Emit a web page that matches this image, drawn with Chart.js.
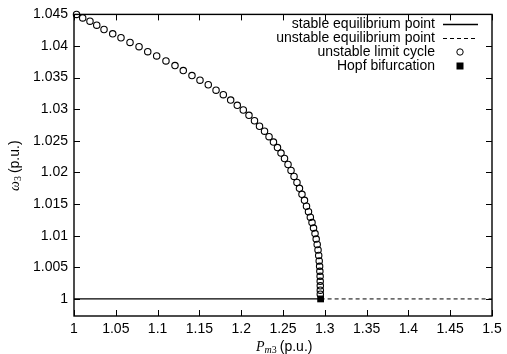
<!DOCTYPE html>
<html>
<head>
<meta charset="utf-8">
<script src="https://cdn.jsdelivr.net/npm/chart.js@4/dist/chart.umd.min.js"></script>
<style>
  html, body { margin: 0; padding: 0; background: #fff; }
  #wrap { width: 507px; height: 354px; }
</style>
</head>
<body>
<div id="wrap"><canvas id="chart" width="507" height="354"></canvas></div>
<script>
/* Hopf bifurcation diagram: omega_3 vs P_m3 */

// unstable limit cycle
const cycleP = [1.003, 1.0104, 1.0191, 1.0272, 1.0359, 1.0463, 1.0562, 1.0670, 1.0778, 1.0882,
    1.0989, 1.1100, 1.1208, 1.1307, 1.1411, 1.1507, 1.1606, 1.1699, 1.1786, 1.1874,
    1.1953, 1.2025, 1.2093, 1.2159, 1.2219, 1.2279, 1.2333, 1.2386, 1.2434, 1.2476,
    1.2518, 1.2560, 1.2596, 1.2632, 1.2667, 1.2697, 1.2727, 1.2757, 1.2781, 1.2805,
    1.2827, 1.2847, 1.2865, 1.2883, 1.2897, 1.2909, 1.2919, 1.2927, 1.2933, 1.2938,
    1.2941, 1.2944, 1.2945, 1.2946, 1.2946, 1.2946];
const cycleW = [1.0450, 1.04445, 1.04393, 1.04330, 1.04261, 1.04193, 1.04131, 1.04057, 1.03989, 1.03911,
    1.03843, 1.03764, 1.03690, 1.03612, 1.03533, 1.03459, 1.03387, 1.03302, 1.03230, 1.03145,
    1.03062, 1.02988, 1.02904, 1.02818, 1.02731, 1.02653, 1.02566, 1.02480, 1.02394, 1.02307,
    1.02221, 1.02126, 1.02032, 1.01938, 1.01843, 1.01749, 1.01655, 1.01560, 1.01466, 1.01380,
    1.01293, 1.01207, 1.01120, 1.01034, 1.00947, 1.00861, 1.00774, 1.00688, 1.00601, 1.00515,
    1.00436, 1.00358, 1.00279, 1.00208, 1.00138, 1.00075];

// equilibrium branch
const hopfP = 1.295;
const eqW = 1.0;
const stableP = [1.0, hopfP];
const unstableP = [hopfP, 1.5];

// axes
const xTicks = [1, 1.05, 1.1, 1.15, 1.2, 1.25, 1.3, 1.35, 1.4, 1.45, 1.5];
const yTicks = [1, 1.005, 1.01, 1.015, 1.02, 1.025, 1.03, 1.035, 1.04, 1.045];
const xRange = [1, 1.5];
const yRange = [0.9973, 1.045];

const legendLabels = ["stable equilibrium point", "unstable equilibrium point", "unstable limit cycle", "Hopf bifurcation"];

const FONT = "Liberation Sans, Arial, Helvetica, sans-serif";
const SERIF = "Liberation Serif, Times New Roman, serif";

function fmt(v) { return String(Number(v.toFixed(4))); }

// frame, inward ticks, legend and axis titles
const gnuplotLook = {
    id: "gnuplotLook",
    beforeDatasetsDraw(chart) {
        const ctx = chart.ctx, a = chart.chartArea;
        const xs = chart.scales.x, ys = chart.scales.y;
        ctx.save();
        ctx.strokeStyle = "#000";
        ctx.lineWidth = 1;
        ctx.beginPath();
        xTicks.forEach(v => {
            const px = Math.round(xs.getPixelForValue(v)) + 0.5;
            ctx.moveTo(px, a.bottom); ctx.lineTo(px, a.bottom - 6);
            ctx.moveTo(px, a.top); ctx.lineTo(px, a.top + 6);
        });
        yTicks.forEach(v => {
            const py = Math.round(ys.getPixelForValue(v)) + 0.5;
            ctx.moveTo(a.left, py); ctx.lineTo(a.left + 6, py);
            ctx.moveTo(a.right, py); ctx.lineTo(a.right - 6, py);
        });
        ctx.stroke();
        ctx.lineWidth = 1.4;
        ctx.strokeRect(a.left, a.top, a.right - a.left, a.bottom - a.top);
        ctx.restore();
    },
    afterDatasetsDraw(chart) {
        const ctx = chart.ctx;
        ctx.save();
        ctx.strokeStyle = "#000";

        // legend
        ctx.font = "14px " + FONT;
        ctx.fillStyle = "#000";
        ctx.textAlign = "right";
        ctx.textBaseline = "middle";
        const tx = 435, sx0 = 443, sx1 = 478, sc = 460;
        legendLabels.forEach((lab, i) => {
            const y = 24 + i * 14;
            ctx.fillText(lab, tx, y);
            const ds = chart.data.datasets[i];
            ctx.beginPath();
            if (i < 2) {
                ctx.setLineDash(ds.borderDash || []);
                ctx.lineWidth = ds.borderWidth;
                ctx.moveTo(sx0, y + 0.5); ctx.lineTo(sx1, y + 0.5);
                ctx.stroke();
                ctx.setLineDash([]);
            } else if (i === 2) {
                ctx.lineWidth = 1;
                ctx.arc(sc, y, ds.pointRadius, 0, Math.PI * 2);
                ctx.stroke();
            } else {
                ctx.fillRect(sc - 3.5, y - 3.5, 7, 7);
            }
        });

        // x title: P_m3 (p.u.)
        ctx.textAlign = "left";
        ctx.textBaseline = "alphabetic";
        const by = 351;
        let x = 256;
        ctx.font = "italic 14px " + SERIF;
        ctx.fillText("P", x, by); x += ctx.measureText("P").width;
        ctx.font = "italic 10px " + SERIF;
        ctx.fillText("m", x, by + 2); x += ctx.measureText("m").width;
        ctx.font = "10px " + SERIF;
        ctx.fillText("3", x, by + 2); x += ctx.measureText("3").width + 3;
        ctx.font = "14px " + FONT;
        ctx.fillText("(p.u.)", x, by);

        // y title: omega_3 (p.u.)
        ctx.translate(19, 191);
        ctx.rotate(-Math.PI / 2);
        x = 0;
        ctx.font = "italic 14px " + SERIF;
        ctx.fillText("ω", x, 0); x += ctx.measureText("ω").width;
        ctx.font = "10px " + SERIF;
        ctx.fillText("3", x, 2); x += ctx.measureText("3").width + 3;
        ctx.font = "14px " + FONT;
        ctx.fillText("(p.u.)", x, 0);
        ctx.restore();
    }
};

new Chart(document.getElementById("chart"), {
    type: "scatter",
    data: {
        datasets: [
            {
                label: legendLabels[0],
                data: stableP.map(p => ({ x: p, y: eqW })),
                showLine: true, borderColor: "#000", borderWidth: 1.3,
                pointRadius: 0
            },
            {
                label: legendLabels[1],
                data: unstableP.map(p => ({ x: p, y: eqW })),
                showLine: true, borderColor: "#000", borderWidth: 1, borderDash: [4, 3],
                pointRadius: 0
            },
            {
                label: legendLabels[2],
                data: cycleP.map((p, i) => ({ x: p, y: cycleW[i] })),
                clip: false,
                pointStyle: "circle", pointRadius: 3.2, pointBorderWidth: 1.1,
                pointBorderColor: "#000", pointBackgroundColor: "rgba(255,255,255,0)"
            },
            {
                label: legendLabels[3],
                data: [{ x: hopfP, y: eqW }],
                clip: false,
                pointStyle: "rect", pointRadius: 4.8, pointBorderWidth: 0,
                pointBackgroundColor: "#000", pointBorderColor: "#000"
            }
        ]
    },
    options: {
        responsive: false, animation: false,
        layout: { padding: { left: 0, right: 15, top: 12, bottom: 0 } },
        plugins: { legend: { display: false }, tooltip: { enabled: false } },
        scales: {
            x: {
                type: "linear", min: xRange[0], max: xRange[1],
                grid: { display: false, drawTicks: false }, border: { display: false },
                afterBuildTicks: s => { s.ticks = xTicks.map(v => ({ value: v })); },
                afterFit: s => { s.height = 38; },
                ticks: { color: "#000", font: { family: FONT, size: 14 }, padding: 5, maxRotation: 0, autoSkip: false, callback: v => fmt(v) }
            },
            y: {
                type: "linear", min: yRange[0], max: yRange[1],
                grid: { display: false, drawTicks: false }, border: { display: false },
                afterBuildTicks: s => { s.ticks = yTicks.map(v => ({ value: v })); },
                afterFit: s => { s.width = 74; },
                ticks: { color: "#000", font: { family: FONT, size: 14 }, padding: 6, autoSkip: false, callback: v => fmt(v) }
            }
        }
    },
    plugins: [gnuplotLook]
});
</script>
</body>
</html>
